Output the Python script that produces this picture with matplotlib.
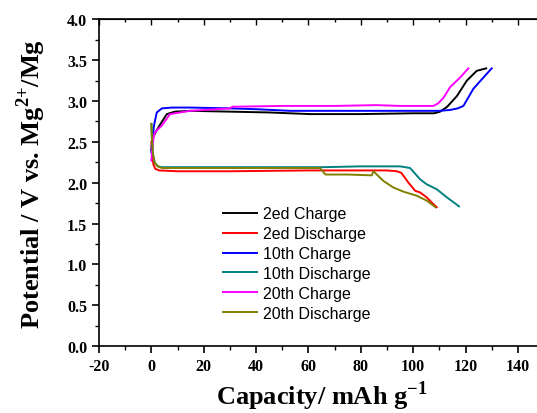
import matplotlib
matplotlib.use('Agg')
import matplotlib.pyplot as plt
from matplotlib.ticker import MultipleLocator

plt.rcParams['font.family'] = ['Liberation Serif', 'DejaVu Serif']
plt.rcParams['font.weight'] = 'bold'
plt.rcParams['axes.unicode_minus'] = False
plt.rcParams['mathtext.fontset'] = 'custom'
plt.rcParams['mathtext.rm'] = 'Liberation Serif:bold'
plt.rcParams['mathtext.bf'] = 'Liberation Serif:bold'

# values
cap_2ed_charge = [0.0, 0.3, 1.0, 2.0, 3.5, 5.9, 9.0, 15, 30, 45, 60.6, 80, 100, 108, 110.3, 113, 116.7, 120.5, 124.3, 127.9]
pot_2ed_charge = [2.40, 2.52, 2.58, 2.64, 2.72, 2.84, 2.87, 2.88, 2.87, 2.86, 2.84, 2.84, 2.85, 2.85, 2.87, 2.93, 3.06, 3.25, 3.37, 3.40]

cap_2ed_dis = [0.0, 0.3, 0.8, 1.5, 3.0, 10, 30, 60, 80, 90, 93.8, 95.5, 98.2, 100.8, 102.7, 105.2, 107, 109]
pot_2ed_dis = [2.50, 2.32, 2.22, 2.17, 2.15, 2.14, 2.14, 2.15, 2.15, 2.15, 2.14, 2.12, 2.00, 1.90, 1.88, 1.82, 1.76, 1.70]

cap_10th_charge = [0.0, 0.3, 1.0, 2.05, 4.0, 8.0, 15, 30, 40, 53, 70, 90, 110, 114, 117, 119.2, 123, 126.9, 130]
pot_10th_charge = [2.37, 2.50, 2.70, 2.86, 2.91, 2.92, 2.92, 2.91, 2.90, 2.88, 2.88, 2.88, 2.88, 2.89, 2.91, 2.94, 3.15, 3.29, 3.40]

cap_10th_dis = [0.0, 0.2, 0.6, 1.3, 2.5, 4.0, 20, 40, 65.7, 80, 95, 98.8, 100.5, 102.7, 105.2, 109, 112.9, 116.7, 117.5]
pot_10th_dis = [2.72, 2.55, 2.35, 2.24, 2.20, 2.19, 2.19, 2.19, 2.19, 2.20, 2.20, 2.18, 2.12, 2.04, 1.98, 1.92, 1.82, 1.73, 1.71]

cap_20th_charge = [0.0, 0.3, 0.8, 1.4, 4.0, 7.1, 14.8, 30, 31, 50, 70, 86, 95, 107.7, 109.5, 111.6, 114.1, 118, 121.1]
pot_20th_charge = [2.27, 2.40, 2.55, 2.62, 2.70, 2.84, 2.88, 2.91, 2.93, 2.94, 2.94, 2.95, 2.94, 2.94, 2.97, 3.04, 3.17, 3.29, 3.40]

cap_20th_dis = [0.0, 0.2, 0.6, 1.3, 2.5, 4.0, 20, 40, 64.4, 66.5, 75, 84.2, 84.8, 88.7, 92.5, 96.3, 101.4, 105.2, 107.7, 108.5]
pot_20th_dis = [2.72, 2.55, 2.35, 2.24, 2.20, 2.18, 2.18, 2.18, 2.18, 2.10, 2.10, 2.09, 2.14, 2.02, 1.94, 1.89, 1.84, 1.78, 1.72, 1.70]

series = [
    ('2ed Charge', cap_2ed_charge, pot_2ed_charge, 'black'),
    ('2ed Discharge', cap_2ed_dis, pot_2ed_dis, 'red'),
    ('10th Charge', cap_10th_charge, pot_10th_charge, 'blue'),
    ('10th Discharge', cap_10th_dis, pot_10th_dis, '#008080'),
    ('20th Charge', cap_20th_charge, pot_20th_charge, 'magenta'),
    ('20th Discharge', cap_20th_dis, pot_20th_dis, '#808000'),
]

fig = plt.figure(figsize=(5.37, 4.14), dpi=100)
ax = fig.add_axes([0.1844, 0.1618, 0.8287, 0.789])

for label, x, y, c in series:
    ax.plot(x, y, color=c, lw=1.4, label=label)

ax.set_xlim(-20, 150)
ax.set_ylim(0, 4.0)
ax.xaxis.set_major_locator(MultipleLocator(20))
ax.xaxis.set_minor_locator(MultipleLocator(10))
ax.yaxis.set_major_locator(MultipleLocator(0.5))
ax.yaxis.set_minor_locator(MultipleLocator(0.25))
ax.yaxis.set_major_formatter(plt.FormatStrFormatter('%.1f'))

for s in ax.spines.values():
    s.set_linewidth(1.2)
ax.tick_params(which='major', direction='out', length=5, width=1.2, labelsize=11.5)
ax.tick_params(which='minor', direction='out', length=3, width=1.0)

top = ax.secondary_xaxis('top')
top.xaxis.set_major_locator(MultipleLocator(20))
top.xaxis.set_minor_locator(MultipleLocator(10))
top.tick_params(which='major', direction='in', length=4, width=1.0, labeltop=False)
top.tick_params(which='minor', direction='in', length=2.5, width=1.0)

ax.set_xlabel('Capacity/ mAh g$^{-1}$', fontsize=19, fontweight='bold', labelpad=3)
ax.set_ylabel('Potential / V vs. Mg$^{2{+}}$/Mg', fontsize=19, fontweight='bold', labelpad=14)

ax.legend(loc='upper left', bbox_to_anchor=(0.279, 0.428), frameon=False,
          prop={'family': 'Liberation Sans', 'size': 11.5, 'weight': 'normal'},
          handlelength=2.1, handletextpad=0.4, labelspacing=0.31,
          borderpad=0, borderaxespad=0)

fig.savefig('out.png', dpi=100)
